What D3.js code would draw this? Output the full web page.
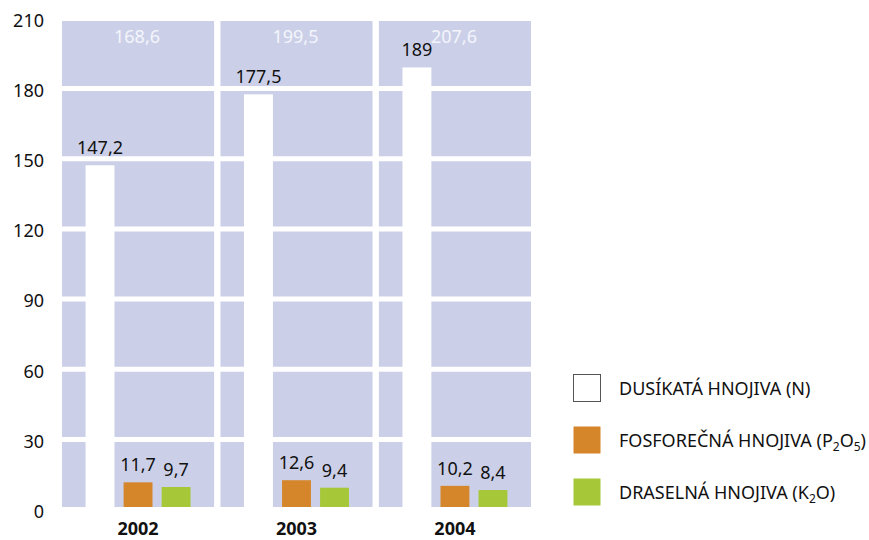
<!DOCTYPE html>
<html>
<head>
<meta charset="utf-8">
<script src="https://cdn.jsdelivr.net/npm/d3@7"></script>
<style>
    body { margin: 0; background: #fff; }
    svg text { font-family: "Noto Sans", "Open Sans", sans-serif; fill: #111; }
</style>
</head>
<body>
<div id="chart"></div>
<script>
"use strict";

// chart data
var years = ['2002', '2003', '2004'];
var seriesKeys = ['N', 'P2O5', 'K2O'];
var valuesN = [147.2, 177.5, 189];
var valuesP = [11.7, 12.6, 10.2];
var valuesK = [9.7, 9.4, 8.4];
var yTicks = [0, 30, 60, 90, 120, 150, 180, 210];

var colors = { N: '#ffffff', P2O5: '#d5862a', K2O: '#a6c838' };
var panelColor = '#cbd0e8';

var width = 869, height = 540;

var svg = d3.select('#chart').append('svg')
    .attr('width', width)
    .attr('height', height);

var x = d3.scaleBand()
    .domain(years)
    .range([62, 531])
    .paddingInner(0.04);

var xInner = d3.scaleBand()
    .domain(seriesKeys)
    .range([0, x.bandwidth()])
    .paddingInner(0.24)
    .paddingOuter(0.62);

var y = d3.scaleLinear()
    .domain([0, 210])
    .range([509.7, 18.3]);

var rows = years.map(function(year, i) {
    return {
        year: year,
        values: [
            { key: 'N', value: valuesN[i] },
            { key: 'P2O5', value: valuesP[i] },
            { key: 'K2O', value: valuesK[i] }
        ],
        total: valuesN[i] + valuesP[i] + valuesK[i]
    };
});

function fmt(v) {
    return String(Math.round(v * 10) / 10).replace('.', ',');
}

// background panels per year
svg.append('g')
    .selectAll('rect')
    .data(years)
    .join('rect')
    .attr('x', function(d) { return x(d); })
    .attr('y', y(210) + 2.7)
    .attr('width', x.bandwidth())
    .attr('height', y(0) - y(210) - 5.4)
    .attr('fill', panelColor);

// white horizontal grid lines
svg.append('g')
    .selectAll('line')
    .data(yTicks.filter(function(t) { return t > 0 && t < 210; }))
    .join('line')
    .attr('x1', x.range()[0])
    .attr('x2', x.range()[1])
    .attr('y1', function(d) { return y(d); })
    .attr('y2', function(d) { return y(d); })
    .attr('stroke', '#fff')
    .attr('stroke-width', 5);

// y axis labels
var yAxis = d3.axisLeft(y)
    .tickValues(yTicks)
    .tickSize(0)
    .tickPadding(0)
    .tickFormat(d3.format('d'));

svg.append('g')
    .attr('transform', 'translate(44,2)')
    .call(yAxis)
    .call(function(g) {
        g.select('.domain').remove();
        g.selectAll('text')
            .style('font-size', '18px')
            .style('font-family', '"Noto Sans", sans-serif')
            .attr('fill', '#111');
    });

// totals at the top of the panels
svg.append('g')
    .selectAll('text')
    .data(rows)
    .join('text')
    .attr('x', function(d) { return x(d.year) + x.bandwidth() / 2 - 1; })
    .attr('y', 43)
    .attr('text-anchor', 'middle')
    .style('font-size', '18px')
    .style('fill', '#f4f5fb')
    .text(function(d) { return fmt(d.total); });

// bars
var groups = svg.append('g')
    .selectAll('g')
    .data(rows)
    .join('g')
    .attr('transform', function(d) { return 'translate(' + x(d.year) + ',0)'; });

groups.selectAll('rect')
    .data(function(d) { return d.values; })
    .join('rect')
    .attr('x', function(d) { return xInner(d.key); })
    .attr('y', function(d) { return y(d.value); })
    .attr('width', xInner.bandwidth())
    .attr('height', function(d) { return y(0) - 2.7 - y(d.value); })
    .attr('fill', function(d) { return colors[d.key]; });

groups.selectAll('text.value')
    .data(function(d) { return d.values; })
    .join('text')
    .attr('class', 'value')
    .attr('x', function(d) { return xInner(d.key) + xInner.bandwidth() / 2; })
    .attr('y', function(d) { return y(d.value) - 11; })
    .attr('text-anchor', 'middle')
    .style('font-size', '18px')
    .text(function(d) { return fmt(d.value); });

// year labels
svg.append('g')
    .selectAll('text')
    .data(years)
    .join('text')
    .attr('x', function(d) { return x(d) + x.bandwidth() / 2; })
    .attr('y', 535)
    .attr('text-anchor', 'middle')
    .style('font-size', '18px')
    .style('font-weight', 'bold')
    .text(function(d) { return d; });

// legend
var legendItems = [
    { key: 'N', parts: [['DUSÍKATÁ HNOJIVA (N)', false]] },
    { key: 'P2O5', parts: [['FOSFOREČNÁ HNOJIVA (P', false], ['2', true], ['O', false], ['5', true], [')', false]] },
    { key: 'K2O', parts: [['DRASELNÁ HNOJIVA (K', false], ['2', true], ['O)', false]] }
];

var legend = svg.append('g')
    .attr('transform', 'translate(573,374)');

var legendRows = legend.selectAll('g')
    .data(legendItems)
    .join('g')
    .attr('transform', function(d, i) { return 'translate(0,' + (i * 52) + ')'; });

legendRows.append('rect')
    .attr('x', 0.5)
    .attr('y', 0.5)
    .attr('width', 27)
    .attr('height', 27)
    .attr('fill', function(d) { return colors[d.key]; })
    .attr('stroke', function(d) { return d.key === 'N' ? '#555' : 'none'; });

legendRows.append('text')
    .attr('x', 46)
    .attr('y', 20.5)
    .style('font-size', '18px')
    .each(function(d) {
        var t = d3.select(this);
        d.parts.forEach(function(p) {
            var span = t.append('tspan').text(p[0]);
            if (p[1]) {
                span.attr('dy', 4).style('font-size', '12px');
            } else if (t.selectAll('tspan').size() > 1) {
                span.attr('dy', -4);
            }
        });
    });
</script>
</body>
</html>
